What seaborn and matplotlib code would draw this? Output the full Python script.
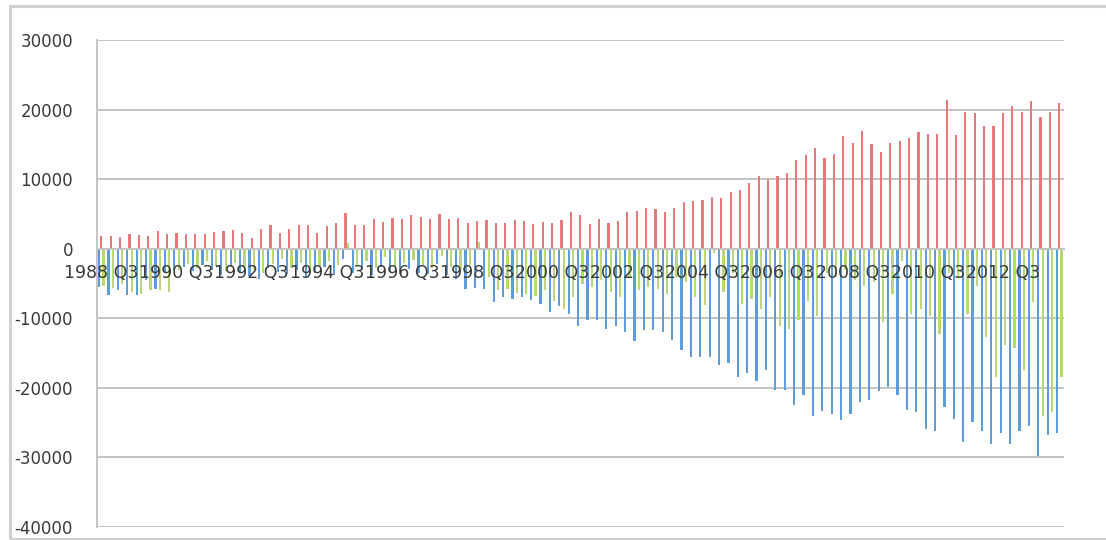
import matplotlib
matplotlib.use("Agg")
import matplotlib.pyplot as plt
from matplotlib.patches import Rectangle
from matplotlib.ticker import FixedLocator, NullFormatter
import numpy as np
import pandas as pd
import seaborn as sns

# Quarterly categories, 1988 Q3 .. 2014 Q1
quarters = []
year, q = 1988, 3
while (year, q) <= (2014, 1):
    quarters.append(f"{year} Q{q}")
    q += 1
    if q > 4:
        q, year = 1, year + 1

series_names = ["Series 1", "Series 2", "Series 3"]
series_colors = ["#5E9CDB", "#E8797B", "#BAD777"]

series_1 = [
    -5500, -6700, -6000, -6700, -6700, -4500, -5800, -3500, -3000, -2600,
    -3200, -2400, -3000, -3800, -2600, -3400, -3900, -4300, -2800, -3300,
    -3600, -3000, -4000, -3500, -2700, -3800, -1500, -3500, -3000, -3800,
    -2600, -3300, -3600, -2900, -3500, -3700, -2200, -3800, -4300, -5750,
    -5700, -5800, -7700, -7000, -7200, -7000, -7400, -7900, -9100, -8300,
    -9350, -11050, -10300, -10300, -11500, -11050, -12000, -13200, -11750, -11650,
    -12000, -13100, -14550, -15600, -15600, -15600, -16650, -16450, -18400, -17900,
    -19000, -17400, -20300, -20300, -22500, -21000, -24000, -23300, -23800, -24650,
    -23700, -22100, -21750, -20500, -19850, -21000, -23200, -23500, -25850, -26200,
    -22800, -24500, -27850, -24900, -26200, -28100, -26500, -28000, -26200, -25450,
    -29800, -26750, -26550,
]

series_2 = [
    1800, 1800, 1700, 2050, 1900, 1850, 2500, 2150, 2250, 2050,
    2050, 2150, 2400, 2500, 2750, 2250, 1600, 2900, 3450, 2300,
    2900, 3450, 3450, 2300, 3200, 3650, 5100, 3450, 3350, 4300,
    3850, 4400, 4300, 4800, 4550, 4300, 5050, 4300, 4450, 3700,
    4000, 4100, 3700, 3750, 4100, 3950, 3500, 3850, 3700, 4100,
    5300, 4850, 3600, 4200, 3750, 3950, 5300, 5400, 5850, 5750,
    5300, 5850, 6700, 6850, 6950, 7450, 7350, 8150, 8500, 9450,
    10400, 9950, 10400, 10900, 12700, 13450, 14500, 13100, 13550, 16250,
    15200, 16900, 15050, 13900, 15200, 15500, 15850, 16800, 16550, 16550,
    21400, 16350, 19600, 19550, 17700, 17700, 19550, 20500, 19600, 21300,
    19000, 19600, 21000,
]

series_3 = [
    -5300, -5700, -5000, -6250, -6500, -6000, -6000, -6200, -3000, -2200,
    -2800, -1800, -2500, -3200, -2000, -2600, -3000, -3500, -2200, -1500,
    -2800, -2000, -3000, -2500, -1800, -2300, 800, -2500, -1800, -2800,
    -1200, -2600, -2000, -1600, -2400, -2800, -1000, -2600, -3000, -2400,
    900, -4000, -6000, -5800, -6300, -6500, -6800, -6000, -7500, -8700,
    -7000, -5000, -5500, -4500, -6200, -7000, -4000, -6000, -5500, -5800,
    -6500, -4100, -4800, -7000, -8150, -600, -6250, -3500, -7900, -7200,
    -8650, -7000, -11050, -11500, -10300, -7450, -9600, -3500, -4000, -3000,
    -4500, -5300, -4800, -10550, -6500, -1800, -9350, -8650, -9600, -12250,
    -3500, -4000, -9350, -5300, -12700, -18500, -13900, -14200, -17500, -7700,
    -24000, -23500, -18500,
]

y_ticks = [-40000, -30000, -20000, -10000, 0, 10000, 20000, 30000]
label_every = 8

df = pd.concat([
    pd.DataFrame({"quarter": quarters, "value": vals, "series": name})
    for name, vals in zip(series_names, [series_1, series_2, series_3])
])

sns.set_style("white")
plt.rcParams["font.family"] = ["DejaVu Sans"]

fig = plt.figure(figsize=(11.06, 5.40), dpi=100)
ax = fig.add_axes([96.7 / 1106, 1 - 527 / 540, (1064 - 96.7) / 1106, (527 - 40) / 540])

sns.barplot(
    data=df, x="quarter", y="value", hue="series",
    order=quarters, hue_order=series_names,
    palette=series_colors, width=0.7, saturation=1,
    legend=False, ax=ax, linewidth=0, zorder=1,
)

grid_color = "#C4C4C4"
text_color = "#3A3A3A"

ax.set_ylim(-40000, 30000)
ax.set_xlim(-0.5, len(quarters) - 0.5)
for v in y_ticks:
    ax.axhline(v, color=grid_color, lw=1.4, zorder=0.5)

ax.set_yticks(y_ticks)
ax.set_yticklabels([str(v) for v in y_ticks])
ax.set_xticks(range(0, len(quarters), label_every))
ax.set_xticklabels(quarters[::label_every])
ax.xaxis.set_minor_locator(FixedLocator(np.arange(0.5, len(quarters) - 0.5, 1)))
ax.xaxis.set_minor_formatter(NullFormatter())

ax.set_xlabel("")
ax.set_ylabel("")

for side in ["top", "right"]:
    ax.spines[side].set_visible(False)
ax.spines["left"].set_color(grid_color)
ax.spines["left"].set_linewidth(1.4)
ax.spines["bottom"].set_position(("data", 0))
ax.spines["bottom"].set_color(grid_color)
ax.spines["bottom"].set_linewidth(1.4)

ax.tick_params(axis="y", which="major", length=5, width=1.2, color=grid_color,
               pad=12, labelsize=12, labelcolor=text_color, direction="out")
ax.tick_params(axis="x", which="major", length=0, pad=11,
               labelsize=12.5, labelcolor=text_color)
ax.tick_params(axis="x", which="minor", length=4, width=1, color=grid_color,
               direction="out")
ax.set_axisbelow(False)
for lab in ax.get_xticklabels():
    lab.set_zorder(5)

# light frame around the chart area (left and top edges fall inside the canvas)
fig.patches.append(Rectangle((10 / 1106, 1 - 539 / 540), 2.0, (539 - 6) / 540,
                             transform=fig.transFigure, fill=False,
                             edgecolor="#D0D0D0", lw=2.2, zorder=0))

fig.savefig("out.png", dpi=100, facecolor="white")
